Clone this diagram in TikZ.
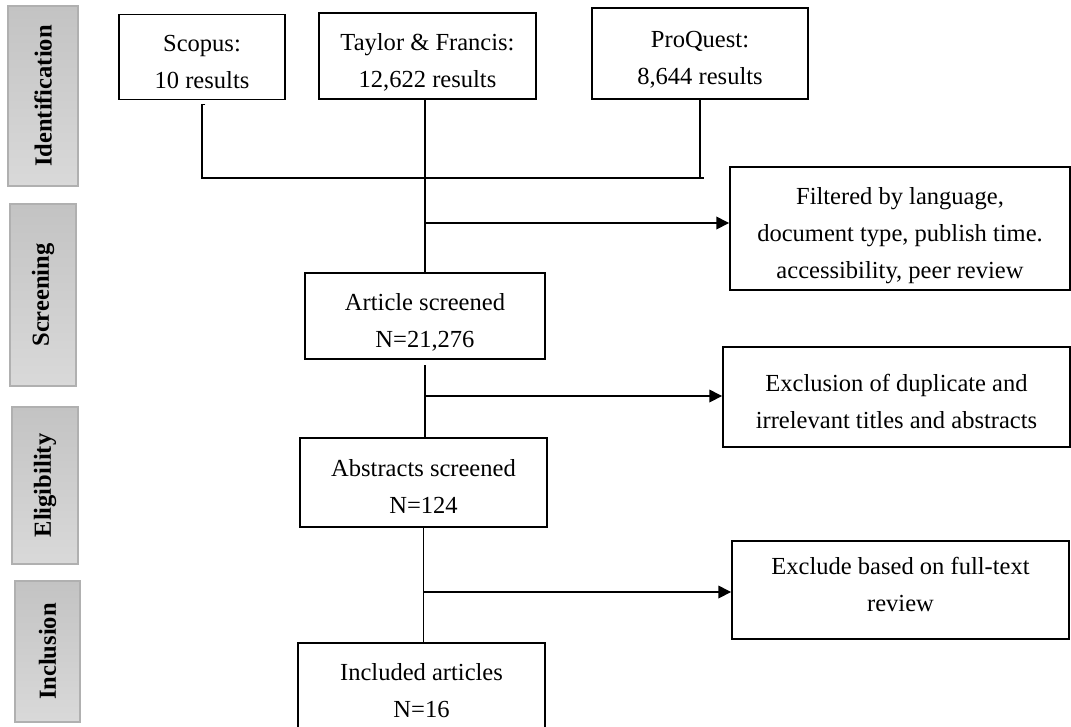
\documentclass[tikz,border=0pt]{standalone}
\usepackage{fontspec}
\setmainfont{Liberation Serif}
\usetikzlibrary{arrows.meta}

\definecolor{phasetop}{HTML}{C3C3C3}
\definecolor{phasebot}{HTML}{D9D9D9}
\definecolor{phaseline}{HTML}{B0B0B0}

\newcommand{\boxfont}{\fontsize{18.4}{27.75}\selectfont}
\newcommand{\hi}{\rule{0pt}{27.75pt}}

\begin{document}
\begin{tikzpicture}[x=0.75pt, y=-0.75pt,
    box/.style={draw, line width=1.4pt, align=center, inner sep=0pt, font=\boxfont},
    phase/.style={draw=phaseline, line width=1.2pt, top color=phasetop, bottom color=phasebot,
        inner sep=0pt, font=\boxfont\bfseries},
    link/.style={line width=1.3pt},
    arr/.style={line width=1pt, -{Triangle[length=9.5pt, width=9.5pt]}}]

    \useasboundingbox (0,0) rectangle (1071,726);

    % 段階ラベル
    \node[phase, minimum width=52.5pt, minimum height=135pt] (ident) at (43,96)
        {\rotatebox{90}{Identification}};
    \node[phase, minimum width=49.5pt, minimum height=136.5pt] (screen) at (43,295)
        {\rotatebox{90}{Screening}};
    \node[phase, minimum width=49.5pt, minimum height=117.75pt] (elig) at (45,485.5)
        {\rotatebox{90}{Eligibility}};
    \node[phase, minimum width=48.75pt, minimum height=105.75pt] (incl) at (47.5,651.5)
        {\rotatebox{90}{Inclusion}};

    % データベース
    \node[box, minimum width=124.5pt, minimum height=63pt] (scopus) at (202,57)
        {\hi Scopus:\\10 results\strut};
    \node[box, minimum width=162.75pt, minimum height=64.5pt] (taylor) at (427.5,56)
        {\hi Taylor \& Francis:\\12,622 results\strut};
    \node[box, minimum width=162pt, minimum height=68.25pt] (proquest) at (700,53.5)
        {\hi ProQuest:\\8,644 results\strut};

    % 中央の流れ
    \node[box, minimum width=180pt, minimum height=64.5pt] (article) at (425,316)
        {\hi Article screened\\N=21,276\strut};
    \node[box, minimum width=185.25pt, minimum height=66.75pt] (abstracts) at (423.5,482.5)
        {\hi Abstracts screened\\N=124\strut};
    \node[box, minimum width=185.25pt, minimum height=64.5pt] (included) at (421.5,686)
        {\hi Included articles\\N=16\strut};

    % 除外
    \node[box, minimum width=255pt, minimum height=92.25pt] (filter) at (900,228.5)
        {\hi Filtered by language,\\document type, publish time.\\accessibility, peer review\strut};
    \node[box, minimum width=260.25pt, minimum height=75pt] (exclusion) at (896.5,397)
        {\hi Exclusion of duplicate and\\irrelevant titles and abstracts\strut};
    \node[box, minimum width=252.75pt, minimum height=73.5pt] (exclude) at (900.5,590)
        {Exclude based on full-text\\review\strut};

    % 合流線
    \coordinate (jl) at (202,178);
    \coordinate (jr) at (704,178);
    \draw[link] ([xshift=2.5pt, yshift=-3pt]scopus.south) -| (jl) -- (jr);
    \draw[link] (proquest.south) -- (proquest.south |- jr);
    \draw[link] (article.north |- taylor.south) -- (article.north);
    \draw[link] ([yshift=-4pt]article.south) -- (article.south |- abstracts.north);
    \draw[link] (abstracts.south) -- (abstracts.south |- included.north);

    % 矢印
    \coordinate (s1) at (425,223);
    \coordinate (s2) at (425,396);
    \coordinate (s3) at (423.5,592);
    \draw[arr] (s1) -- (s1 -| filter.west);
    \draw[arr] (s2) -- (s2 -| exclusion.west);
    \draw[arr] (s3) -- (s3 -| exclude.west);

\end{tikzpicture}
\end{document}
